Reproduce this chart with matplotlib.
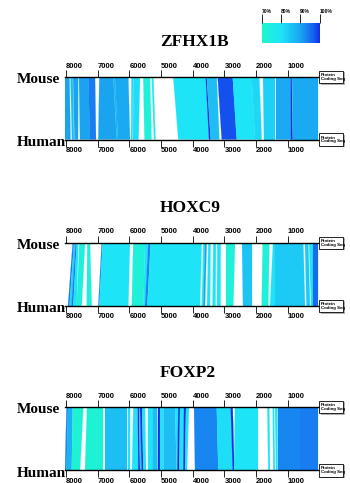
import matplotlib
matplotlib.use("Agg")
import matplotlib.pyplot as plt
import numpy as np
from matplotlib.patches import Polygon, Rectangle
from matplotlib.colors import LinearSegmentedColormap, Normalize
from matplotlib.cm import ScalarMappable
from matplotlib.transforms import Affine2D

# ---------------- data (bp positions, identity %) ----------------
genes = ["ZFHX1B", "HOXC9", "FOXP2"]
tick_positions = [8000, 7000, 6000, 5000, 4000, 3000, 2000, 1000]
tick_labels = ["8000", "7000", "6000", "5000", "4000", "3000", "2000", "1000"]
legend_ticks = [70, 80, 90, 100]
legend_labels = ["70%", "80%", "90%", "100%"]
species = ["Mouse", "Human"]

zfhx1b_mouse_start = [8032, 7858, 7779, 7590, 7296, 6949, 6508, 6454, 5933, 5877, 5561, 5296,
                      4615, 3593, 3561, 3214, 2741, 2141, 1775, 1375, 911, 879]
zfhx1b_mouse_end = [7890, 7789, 7615, 7296, 7085, 6508, 6454, 6034, 5886, 5665, 5350, 5246,
                    3593, 3561, 3246, 2741, 2141, 1901, 1406, 911, 879, 40]
zfhx1b_human_start = [8032, 7811, 7732, 7558, 7243, 6981, 6400, 6359, 5949, 5886, 5523, 5224,
                      4457, 3488, 3435, 3088, 2614, 2037, 1753, 1375, 901, 848]
zfhx1b_human_end = [7858, 7748, 7621, 7243, 7054, 6400, 6359, 5981, 5902, 5713, 5302, 5176,
                    3488, 3435, 3163, 2614, 2037, 1826, 1406, 901, 848, 40]
zfhx1b_identity = [90, 86, 90, 90, 94, 90, 87, 89, 82, 81, 73, 76,
                   80, 100, 86, 98, 80, 82, 83, 89, 100, 89]

hoxc9_mouse_start = [7789, 7748, 7700, 7662, 7580, 7328, 6874, 6842, 5877, 5508, 5403, 5328,
                     3668, 3615, 3510, 3353, 3226, 2952, 2438, 1794, 1460, 1406, 460, 324, 217]
hoxc9_mouse_end = [7748, 7700, 7662, 7612, 7401, 7243, 6842, 5981, 5508, 5403, 5328, 3719,
                   3615, 3561, 3435, 3268, 3119, 2668, 2141, 1586, 1406, 513, 356, 217, 40]
hoxc9_human_start = [7937, 7890, 7826, 7770, 7662, 7347, 6981, 6949, 5927, 5561, 5508, 5435,
                     3719, 3668, 3551, 3378, 3236, 2952, 2416, 1826, 1564, 1406, 412, 286, 217]
hoxc9_human_end = [7890, 7826, 7770, 7662, 7505, 7189, 6949, 6034, 5561, 5508, 5435, 3772,
                   3668, 3615, 3457, 3283, 3126, 2722, 2141, 1617, 1406, 460, 302, 217, 40]
hoxc9_identity = [94, 82, 94, 80, 73, 73, 93, 80, 73, 80, 93, 80,
                  75, 90, 80, 80, 80, 73, 85, 73, 80, 84, 84, 80, 96]

foxp2_mouse_start = [7984, 7937, 7789, 7347, 6770, 6034, 5877, 5738, 5697, 5665, 5602, 5413,
                     5255, 5088, 5034, 4930, 4561, 4457, 4403, 4277, 4214, 3962, 3245, 2804,
                     2668, 1649, 1479, 1406, 1302, 617]
foxp2_mouse_end = [7937, 7789, 7454, 6823, 6085, 5981, 5751, 5697, 5665, 5602, 5508, 5255,
                   5129, 5034, 4930, 4561, 4457, 4403, 4277, 4214, 4119, 3245, 2804, 2741,
                   1933, 1586, 1438, 1333, 617, 40]
foxp2_human_start = [8032, 7984, 7820, 7401, 6770, 6034, 5918, 5719, 5665, 5612, 5561, 5413,
                     5255, 5088, 5034, 4930, 4507, 4488, 4425, 4299, 4246, 3930, 3195, 2741,
                     2690, 1617, 1460, 1375, 1302, 617]
foxp2_human_end = [7984, 7820, 7558, 6823, 6085, 5981, 5719, 5665, 5612, 5561, 5476, 5255,
                   5113, 5034, 4930, 4507, 4488, 4425, 4299, 4246, 4183, 3195, 2741, 2690,
                   1933, 1564, 1406, 1327, 617, 40]
foxp2_identity = [93, 88, 72, 72, 86, 80, 80, 100, 82, 100, 80, 80,
                  86, 100, 80, 86, 80, 100, 80, 100, 80, 93, 81, 100,
                  80, 80, 80, 80, 93, 94]

gene_data = {
    "ZFHX1B": (zfhx1b_mouse_start, zfhx1b_mouse_end, zfhx1b_human_start, zfhx1b_human_end, zfhx1b_identity),
    "HOXC9": (hoxc9_mouse_start, hoxc9_mouse_end, hoxc9_human_start, hoxc9_human_end, hoxc9_identity),
    "FOXP2": (foxp2_mouse_start, foxp2_mouse_end, foxp2_human_start, foxp2_human_end, foxp2_identity),
}

# ---------------- style ----------------
W, H = 350, 483
fig = plt.figure(figsize=(W / 100, H / 100), dpi=100)
fig.patch.set_facecolor("white")
px = Affine2D().scale(1 / W, -1 / H).translate(0, 1) + fig.transFigure

cmap = LinearSegmentedColormap.from_list(
    "ident",
    [(0.0, "#1ef5cc"), (0.333, "#1ee4f8"), (0.5, "#1cc4f4"), (0.667, "#1aa4f0"),
     (0.9, "#1460f0"), (1.0, "#1430e6")])
norm = Normalize(70, 100)

serif = "Liberation Serif"
sans = "Liberation Sans"

x_left, x_right = 65, 319
xlim = (8032, 18)
panel_lines = [(77, 139.5), (242.7, 306), (407, 470.3)]
title_base = [46.5, 211.7, 376.7]

for gi, gene in enumerate(genes):
    ym, yh = panel_lines[gi]
    ax = fig.add_axes([x_left / W, 1 - yh / H, (x_right - x_left) / W, (yh - ym) / H])
    ax.set_xlim(*xlim)
    ax.set_ylim(0, 1)
    ax.set_facecolor("white")
    m0, m1, h0, h1, ident = gene_data[gene]
    for a, b, c, d, v in zip(m0, m1, h0, h1, ident):
        col = cmap(norm(v))
        ax.add_patch(Polygon([(a, 1), (b, 1), (d, 0), (c, 0)], closed=True,
                             facecolor=col, edgecolor=col, linewidth=0.15))
    for s in ["left", "right"]:
        ax.spines[s].set_visible(False)
    for s in ["top", "bottom"]:
        ax.spines[s].set_linewidth(1.0)
        ax.spines[s].set_zorder(5)
    ax.set_yticks([])
    ax.set_xticks(tick_positions)
    ax.set_xticklabels(tick_labels)
    ax.tick_params(axis="x", which="both", top=True, bottom=True, labeltop=True,
                   labelbottom=True, direction="out", length=5, width=0.6,
                   pad=0.3, labelsize=5.5)
    for t in ax.xaxis.get_major_ticks():
        for lab in (t.label1, t.label2):
            lab.set_horizontalalignment("left")
            lab.set_fontweight("bold")
            lab.set_fontfamily(sans)

    # title and species labels
    fig.text(160 / W, 1 - title_base[gi] / H, gene, family=serif, weight="bold",
             size=12.5, ha="left", va="baseline")
    for sp, yline in zip(species, (ym, yh)):
        fig.text(16.5 / W, 1 - (yline + 6.3) / H, sp, family=serif, weight="bold",
                 size=11, ha="left", va="baseline")
        # protein coding seq box
        fig.add_artist(Rectangle((320.5, yline - 5), 24, 12.5, transform=px,
                                 facecolor="#b0b0b0", edgecolor="none"))
        fig.add_artist(Rectangle((319, yline - 6.2), 24, 12.5, transform=px,
                                 facecolor="white", edgecolor="black", linewidth=0.6))
        fig.text(321 / W, 1 - yline / H, "Protein\nCoding Seq", family=sans,
                 weight="bold", size=3.2, ha="left", va="center", linespacing=0.95)

# ---------------- legend colour bar ----------------
cax = fig.add_axes([261.7 / W, 1 - 43.3 / H, 57.8 / W, 20 / H])
cb = fig.colorbar(ScalarMappable(norm=norm, cmap=cmap), cax=cax,
                  orientation="horizontal", ticklocation="top")
cb.outline.set_visible(False)
cb.set_ticks(legend_ticks)
cb.set_ticklabels(legend_labels)
cax.tick_params(axis="x", length=6.5, width=0.6, pad=0.3, labelsize=3.6)
for t in cax.xaxis.get_major_ticks():
    for lab in (t.label1, t.label2):
        lab.set_horizontalalignment("left")
        lab.set_fontweight("bold")
        lab.set_fontfamily(sans)

fig.savefig("out.png", dpi=100, facecolor="white")
